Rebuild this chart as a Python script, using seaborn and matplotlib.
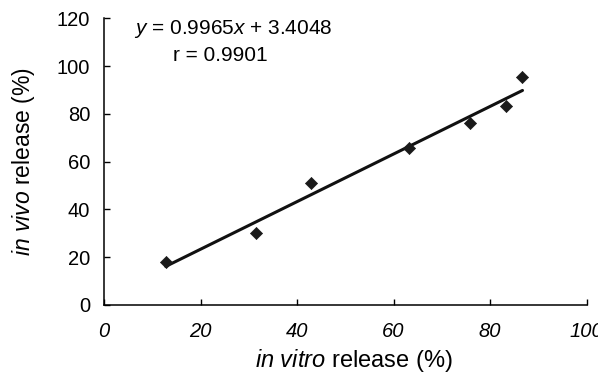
import numpy as np
import pandas as pd
import seaborn as sns
import matplotlib.pyplot as plt

# in vitro / in vivo release (%)
in_vitro = [12.8, 31.5, 42.8, 63.1, 75.8, 83.2, 86.7]
in_vivo = [17.9, 30.3, 50.9, 65.6, 76.1, 83.4, 95.6]
slope = 0.9965
intercept = 3.4048
r_value = 0.9901
x_ticks = [0, 20, 40, 60, 80, 100]
y_ticks = [0, 20, 40, 60, 80, 100, 120]

sns.set_style('ticks')
plt.rcParams['font.family'] = ['Liberation Sans', 'DejaVu Sans']
plt.rcParams['mathtext.fontset'] = 'custom'
plt.rcParams['mathtext.rm'] = 'Liberation Sans'
plt.rcParams['mathtext.it'] = 'Liberation Sans:italic'
plt.rcParams['text.color'] = 'black'
plt.rcParams['axes.labelcolor'] = 'black'

df = pd.DataFrame({'in_vitro': in_vitro, 'in_vivo': in_vivo})
fit_x = np.array([min(in_vitro), max(in_vitro)])
fit = pd.DataFrame({'x': fit_x, 'y': slope * fit_x + intercept})

fig = plt.figure(figsize=(5.98, 3.77), dpi=100)
ax = fig.add_axes([0.1739, 0.191, 0.8072, 0.7605])

sns.lineplot(data=fit, x='x', y='y', color='#111111', linewidth=2.2, ax=ax)
sns.scatterplot(data=df, x='in_vitro', y='in_vivo', marker='D', s=38,
                color='#1a1a1a', edgecolor='#1a1a1a', linewidth=0.5, zorder=3, ax=ax)

ax.set_xlim(0, 100)
ax.set_ylim(0, 120)
ax.set_xticks(x_ticks)
ax.set_yticks(y_ticks)
ax.set_xticklabels([str(t) for t in x_ticks], fontstyle='italic')
ax.tick_params(direction='in', length=4.5, width=1, labelsize=14.5, colors='black')
ax.tick_params(axis='x', pad=12.5)
ax.tick_params(axis='y', pad=10)
for s in ['left', 'bottom']:
    ax.spines[s].set_linewidth(1.1)
    ax.spines[s].set_color('black')
sns.despine(ax=ax)

ax.set_xlabel(r'$\mathit{in\ vitro}$ release (%)', fontsize=17)
ax.xaxis.set_label_coords(0.518, -0.148)
ax.xaxis.label.set_va('top')
ax.set_ylabel(r'$\mathit{in\ vivo}$ release (%)', fontsize=16.5, labelpad=14)

ax.text(26.8, 115.4, f'$y$ = {slope}$x$ + {intercept}', fontsize=15,
        ha='center', va='center')
ax.text(24.2, 104.4, f'r = {r_value}', fontsize=15, ha='center', va='center')

fig.savefig('out.png', dpi=100)
